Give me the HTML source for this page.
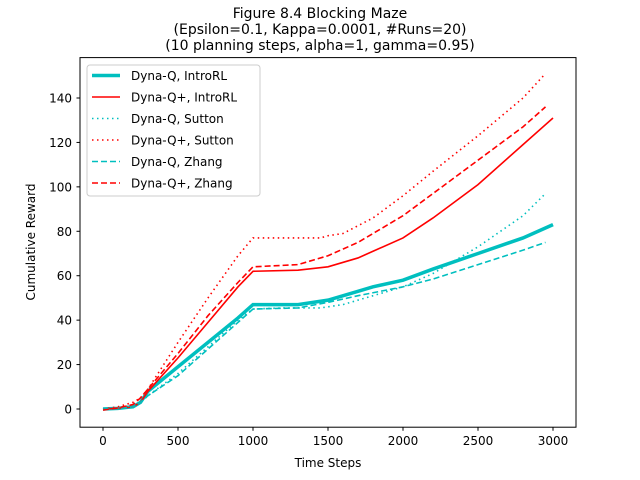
<!DOCTYPE html>
<html><head><meta charset="utf-8"><style>
body{margin:0;background:#fff;}
svg{display:block;font-family:"DejaVu Sans","Liberation Sans",sans-serif;}
</style></head><body>
<svg id="chart" width="640" height="480">
<text x="320" y="18" font-size="14" text-anchor="middle">Figure 8.4 Blocking Maze</text>
<text x="320" y="34" font-size="14" text-anchor="middle">(Epsilon=0.1, Kappa=0.0001, #Runs=20)</text>
<text x="320" y="50" font-size="14" text-anchor="middle">(10 planning steps, alpha=1, gamma=0.95)</text>
<g id="marks"></g>
<rect x="80" y="57.6" width="496" height="369.6" fill="none" stroke="#000" stroke-width="1"/>
<g id="ticks"></g>
<text x="328" y="467" font-size="12" text-anchor="middle">Time Steps</text>
<text transform="translate(35,242) rotate(-90)" font-size="12" text-anchor="middle">Cumulative Reward</text>
<g id="legend"></g>
</svg>
<script>
const xTicks=[0,500,1000,1500,2000,2500,3000];
const yTicks=[0,20,40,60,80,100,120,140];
const stepsA=[0,100,200,250,300,500,700,900,1000,1300,1500,1700,1800,2000,2200,2500,2800,3000];
const introQ=[0,0.3,1,3,8,19,30,41,47,47,49,53,55,58,63,70,77,83];
const introQP=[0,0.3,1,3,8,23,39,55,62,62.5,64,68,71,77,86,101,119,131];
const stepsS=[0,100,200,250,300,500,700,900,1000,1200,1450,1500,1600,1800,2000,2200,2500,2800,2950];
const suttonQ=[0,0.5,1.5,3,6,16,28,40,45,45.5,45.5,46,47,51,55,61,73,87,97];
const suttonQP=[0,1,3,5,9,30,50,69,77,77,77,78,79,86,96,107,123,140,151];
const stepsZ=[0,100,200,250,300,500,700,900,1000,1300,1500,1700,2000,2200,2500,2800,2950];
const zhangQ=[0,0.3,1,3,6,15,27,39,45,45.5,48,51,55,58.5,65,71.5,75];
const zhangQP=[-0.5,0.5,2,5,9,25,42,57,64,65,69,75,87,97,112,127,136];
const legendLabels=["Dyna-Q, IntroRL","Dyna-Q+, IntroRL","Dyna-Q, Sutton","Dyna-Q+, Sutton","Dyna-Q, Zhang","Dyna-Q+, Zhang"];
const X=v=>103+v*0.15;
const Y=v=>409-v*(311/140);
const NS="http://www.w3.org/2000/svg";
const series=[
 {xs:stepsA,ys:introQ,c:"#00bfbf",w:3.5,d:""},
 {xs:stepsA,ys:introQP,c:"#ff0000",w:1.6,d:""},
 {xs:stepsS,ys:suttonQ,c:"#00bfbf",w:1.6,d:"1.5,3.5"},
 {xs:stepsS,ys:suttonQP,c:"#ff0000",w:1.6,d:"1.5,3.5"},
 {xs:stepsZ,ys:zhangQ,c:"#00bfbf",w:1.6,d:"6,3"},
 {xs:stepsZ,ys:zhangQP,c:"#ff0000",w:1.6,d:"6,3"}];
const names=["line-dynaq-introrl","line-dynaqplus-introrl","line-dynaq-sutton","line-dynaqplus-sutton","line-dynaq-zhang","line-dynaqplus-zhang"];
const marks=document.getElementById("marks");
series.forEach((s,i)=>{
 const p=document.createElementNS(NS,"polyline");
 p.setAttribute("points",s.xs.map((x,j)=>X(x)+","+Y(s.ys[j])).join(" "));
 p.setAttribute("fill","none");p.setAttribute("stroke",s.c);p.setAttribute("stroke-width",s.w);
 if(s.d)p.setAttribute("stroke-dasharray",s.d);
 
 
 marks.appendChild(p);
});
const tg=document.getElementById("ticks");
xTicks.forEach(v=>{
 const l=document.createElementNS(NS,"line");
 l.setAttribute("x1",X(v));l.setAttribute("x2",X(v));l.setAttribute("y1",427.2);l.setAttribute("y2",430.7);l.setAttribute("stroke","#000");
 
 
 tg.appendChild(l);
 const t=document.createElementNS(NS,"text");
 t.setAttribute("x",X(v));t.setAttribute("y",445);t.setAttribute("font-size","12");t.setAttribute("text-anchor","middle");t.textContent=v;
 
 
 tg.appendChild(t);
});
yTicks.forEach(v=>{
 const l=document.createElementNS(NS,"line");
 l.setAttribute("x1",76.5);l.setAttribute("x2",80);l.setAttribute("y1",Y(v));l.setAttribute("y2",Y(v));l.setAttribute("stroke","#000");
 
 
 tg.appendChild(l);
 const t=document.createElementNS(NS,"text");
 t.setAttribute("x",72);t.setAttribute("y",Y(v)+4.5);t.setAttribute("font-size","12");t.setAttribute("text-anchor","end");t.textContent=v;
 
 
 tg.appendChild(t);
});
const lg=document.getElementById("legend");
const box=document.createElementNS(NS,"rect");
box.setAttribute("x",87);box.setAttribute("y",65);box.setAttribute("width",173);box.setAttribute("height",131);box.setAttribute("rx",3);
box.setAttribute("fill","#fff");box.setAttribute("fill-opacity","0.8");box.setAttribute("stroke","#ccc");


lg.appendChild(box);
legendLabels.forEach((lab,i)=>{
 const y=75.5+i*21.5,s=series[i];
 const l=document.createElementNS(NS,"line");
 l.setAttribute("x1",92);l.setAttribute("x2",120);l.setAttribute("y1",y);l.setAttribute("y2",y);
 l.setAttribute("stroke",s.c);l.setAttribute("stroke-width",s.w);if(s.d)l.setAttribute("stroke-dasharray",s.d);
 
 
 lg.appendChild(l);
 const t=document.createElementNS(NS,"text");
 t.setAttribute("x",131);t.setAttribute("y",y+4.5);t.setAttribute("font-size","12");t.textContent=lab;
 
 
 lg.appendChild(t);
});
</script>
</body></html>
